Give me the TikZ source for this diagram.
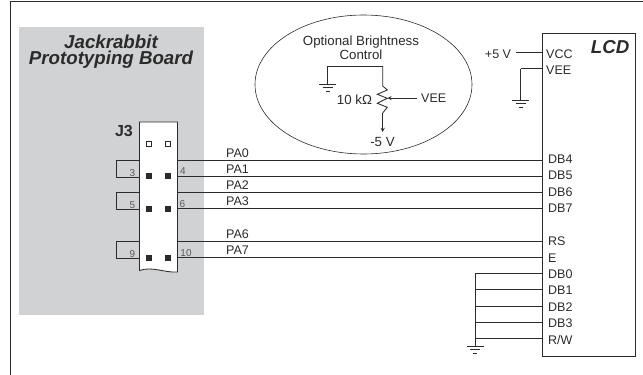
\documentclass[tikz,border=0pt]{standalone}
\usepackage{fontspec}
\setmainfont{Liberation Sans}
\definecolor{boardgray}{HTML}{D1D2D4}
\definecolor{inkgray}{HTML}{2B2B2B}
\tikzset{
	wire/.style={draw=inkgray, line width=0.85pt},
	lbl/.style={inner sep=0pt, text=inkgray, text height=9pt, text depth=0pt, font=\fontsize{12.5}{14}\selectfont},
	pinlbl/.style={inner sep=0pt, text=black!65, text height=7pt, text depth=0pt, font=\fontsize{10}{12}\selectfont},
	title/.style={inner sep=0pt, text=inkgray, align=center, font=\fontsize{18.7}{16}\selectfont\bfseries\itshape},
	pinsquare/.style={minimum size=5pt, inner sep=0pt, fill=inkgray, draw=inkgray},
	pinopen/.style={minimum size=4.5pt, inner sep=0pt, fill=white, draw=inkgray, line width=0.8pt}
}
\begin{document}
\begin{tikzpicture}[x=1pt,y=-1pt]
	\useasboundingbox (0,0) rectangle (643,375);
	%Frame
	%------------------------------------------------------
	\draw[line width=1pt, draw=inkgray] (643,1.5) -- (10.5,1.5) -- (10.5,375);

	%Board
	%------------------------------------------------------
	\fill[boardgray] (19,27) rectangle (204,315);
	\node[title] (BoardName) at (111,51.5) {Jackrabbit\\Prototyping Board};
	\node[inner sep=0pt, text=inkgray, font=\fontsize{16}{18}\selectfont\bfseries] (J3) at (124,131) {J3};

	%Header
	%------------------------------------------------------
	\filldraw[wire, fill=white] (139.5,122) -- (177.5,122) -- (177.5,272)
		.. controls (165,273) and (152,266) .. (139.5,270.5) -- cycle;
	\node[pinopen] (PinOneL) at (149,144) {};
	\node[pinopen] (PinOneR) at (168,144) {};
	\foreach \pinname/\y in {A/175.5, B/208.5, C/257.5} {
		\node[pinsquare] (Pin\pinname L) at (149,\y) {};
		\node[pinsquare] (Pin\pinname R) at (168,\y) {};
	}
	\node[pinlbl] (NumThree) at (132.5,173) {3};
	\node[pinlbl] (NumFour) at (183,170.5) {4};
	\node[pinlbl] (NumFive) at (132.5,205) {5};
	\node[pinlbl] (NumSix) at (182.5,204) {6};
	\node[pinlbl] (NumNine) at (132.5,253.5) {9};
	\node[pinlbl] (NumTen) at (186,253) {10};

	%Jumpers on header
	%------------------------------------------------------
	\foreach \ytop/\ybot in {160/177, 192.5/209, 241.5/258.5}
		\draw[wire] (139.5,\ytop) -- (116.5,\ytop) -- (116.5,\ybot) -- (139.5,\ybot);

	%LCD
	%------------------------------------------------------
	\draw[wire, line width=1pt] (542,33.5) rectangle (635.5,356.5);
	\node[title, anchor=east] (LCD) at (629.5,47) {LCD};
	\node[lbl, anchor=west] (VCC) at (546,53.5) {VCC};
	\node[lbl, anchor=west] (VEE) at (546,70) {VEE};
	\node[lbl] (FiveV) at (498,53.5) {+5 V};
	\draw[wire] (516,52.5) -- (542,52.5);

	%Wires from header to LCD
	%------------------------------------------------------
	\foreach \sig/\dbname/\y/\yy in {PA0/DB4/160/159, PA1/DB5/176.5/175, PA2/DB6/192.5/192, PA3/DB7/208.5/208, PA6/RS/241.5/241, PA7/E/257.5/258} {
		\draw[wire] (177.5,\y) -- (542,\y);
		\node[lbl, anchor=west] (\sig) at (226,\y-7.5) {\sig};
		\node[lbl, anchor=west] (\dbname) at (548,\yy) {\dbname};
	}

	%Tied low
	%------------------------------------------------------
	\foreach \dbname/\y/\yy in {DB0/273.5/274, DB1/289.5/290, DB2/306.5/307, DB3/322.5/323, R\slash W/338.5/339.5} {
		\draw[wire] (475,\y) -- (542,\y);
		\node[lbl, anchor=west] at (548,\yy) {\dbname};
	}
	\draw[wire] (475,273.5) -- (475,346);
	\draw[wire] (520.5,68.5) -- (542,68.5);
	\draw[wire] (520.5,68.5) -- (520.5,100);

	%Grounds
	%------------------------------------------------------
	\foreach \gx/\gy in {475/346, 520.5/100, 327.5/84} {
		\draw[wire] (\gx-8.5,\gy) -- (\gx+8.5,\gy);
		\draw[wire] (\gx-5,\gy+3.7) -- (\gx+5,\gy+3.7);
		\draw[wire] (\gx-2,\gy+7) -- (\gx+2,\gy+7);
	}

	%Brightness
	%------------------------------------------------------
	\draw[line width=0.6pt, draw=inkgray] (363.5,84.5) ellipse [x radius=108.5, y radius=69.5];
	\node[inner sep=0pt, text=inkgray, align=center, font=\fontsize{13.3}{14}\selectfont] (Brightness) at (361,48) {Optional Brightness\\Control};
	\node[lbl, font=\fontsize{13.3}{14}\selectfont] (Pot) at (354.5,100) {10 kΩ};
	\node[lbl, anchor=west] (PotVEE) at (421,98) {VEE};
	\node[lbl, font=\fontsize{13.3}{14}\selectfont] (MinusFive) at (382.5,142) {-5 V};
	\draw[wire] (327.5,84) -- (327.5,66.5) -- (382.7,66.5) -- (382.7,86)
		-- (387.3,90) -- (377.3,94.3) -- (387.3,98.3) -- (377.3,103.3) -- (387.3,107.3) -- (382.7,113);
	\draw[wire, -stealth] (382.7,113) -- (382.7,132);
	\draw[wire, -stealth] (417,98) -- (387.5,98);
\end{tikzpicture}
\end{document}
